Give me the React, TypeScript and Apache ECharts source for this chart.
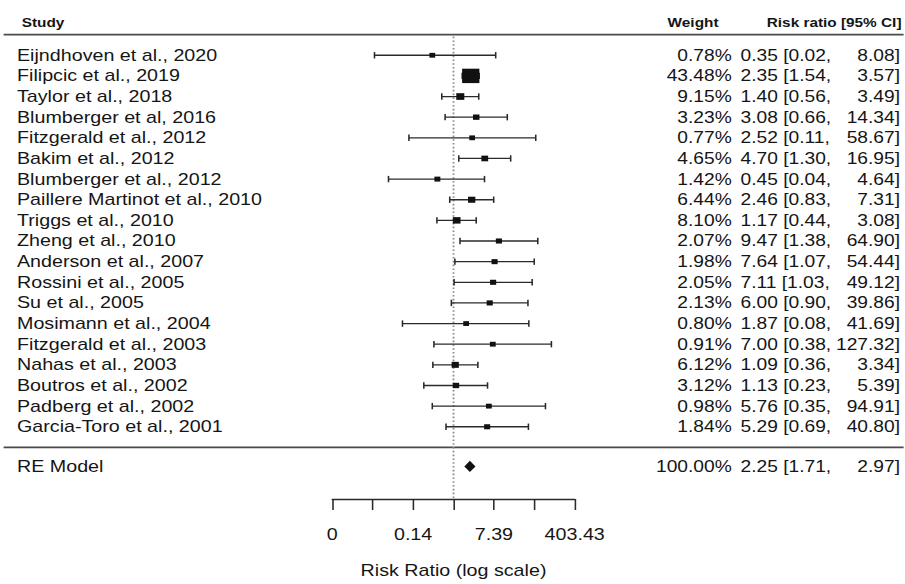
import React, { useEffect, useRef } from "react";
import * as echarts from "echarts";

// ---------------- data ----------------
const studies = [
  "Eijndhoven et al., 2020",
  "Filipcic et al., 2019",
  "Taylor et al., 2018",
  "Blumberger et al, 2016",
  "Fitzgerald et al., 2012",
  "Bakim et al., 2012",
  "Blumberger et al., 2012",
  "Paillere Martinot et al., 2010",
  "Triggs et al., 2010",
  "Zheng et al., 2010",
  "Anderson et al., 2007",
  "Rossini et al., 2005",
  "Su et al., 2005",
  "Mosimann et al., 2004",
  "Fitzgerald et al., 2003",
  "Nahas et al., 2003",
  "Boutros et al., 2002",
  "Padberg et al., 2002",
  "Garcia-Toro et al., 2001",
];
const weights = [0.78, 43.48, 9.15, 3.23, 0.77, 4.65, 1.42, 6.44, 8.1, 2.07, 1.98, 2.05, 2.13, 0.8, 0.91, 6.12, 3.12, 0.98, 1.84];
const riskRatios = [0.35, 2.35, 1.4, 3.08, 2.52, 4.7, 0.45, 2.46, 1.17, 9.47, 7.64, 7.11, 6.0, 1.87, 7.0, 1.09, 1.13, 5.76, 5.29];
const ciLower = [0.02, 1.54, 0.56, 0.66, 0.11, 1.3, 0.04, 0.83, 0.44, 1.38, 1.07, 1.03, 0.9, 0.08, 0.38, 0.36, 0.23, 0.35, 0.69];
const ciUpper = [8.08, 3.57, 3.49, 14.34, 58.67, 16.95, 4.64, 7.31, 3.08, 64.9, 54.44, 49.12, 39.86, 41.69, 127.32, 3.34, 5.39, 94.91, 40.8];

const summaryLabel = "RE Model";
const summaryWeight = 100;
const summaryRR = 2.25;
const summaryLower = 1.71;
const summaryUpper = 2.97;

const headerStudy = "Study";
const headerWeight = "Weight";
const headerRR = "Risk ratio [95% CI]";
const xAxisTitle = "Risk Ratio (log scale)";
const xTickLabels: Record<string, string> = { "-6": "0", "-2": "0.14", "2": "7.39", "6": "403.43" };

// ---------------- layout ----------------
const SX = 1.2; // horizontal stretch of the reference picture
const CHART_W = 754;
const CHART_H = 584;
const FONT = "'Liberation Sans', Arial, Helvetica, sans-serif";
const BODY_SIZE = 16.4;
const NUM_SIZE = 16.0;
const HEAD_SIZE = 12.8;
const INK = "#151515";
const LINE_INK = "#2a2a2a";

const NAME_X = 17 / SX;
const WEIGHT_RIGHT = 731.7 / SX;
const RR_LEFT = 740.5 / SX;
const UPPER_RIGHT = 900 / SX;
const HEAD_STUDY_X = 21.7 / SX;
const HEAD_WEIGHT_RIGHT = 718.5 / SX;
const HEAD_RR_RIGHT = 901.5 / SX;

const ROW_HEADER = -1.6;
const ROW_TOPLINE = -1;
const ROW_SEPARATOR = 19;
const ROW_SUMMARY = 19.92;
const Y_MIN = -1.5;
const Y_MAX = 21.5;

const SQUARE_BASE = 9.6;
const CAP = 3.2;

const wMin = Math.min(...weights);
const wMax = Math.max(...weights);

const fmt = (v: number) => v.toFixed(2);

const bodyText = (x: number, y: number, text: string, align: string, size: number = BODY_SIZE) => ({
  type: "text",
  x,
  y,
  style: {
    text,
    fill: INK,
    fontSize: size,
    fontFamily: FONT,
    align,
    verticalAlign: "middle",
  },
});

const headText = (x: number, y: number, text: string, align: string) => ({
  type: "text",
  x,
  y,
  style: {
    text,
    fill: INK,
    fontSize: HEAD_SIZE,
    fontWeight: "bold",
    fontFamily: FONT,
    align,
    verticalAlign: "middle",
  },
});

const studyData = studies.map((_, i) => [
  Math.log(riskRatios[i]),
  i,
  Math.log(ciLower[i]),
  Math.log(ciUpper[i]),
  weights[i],
]);

const summaryData = [[Math.log(summaryRR), ROW_SUMMARY, Math.log(summaryLower), Math.log(summaryUpper), summaryWeight]];

const option: any = {
  animation: false,
  backgroundColor: "#ffffff",
  grid: {
    left: 332.3 / SX,
    right: CHART_W - 574.7 / SX,
    top: 55.3 + Y_MIN * 20.67,
    height: (Y_MAX - Y_MIN) * 20.67,
  },
  xAxis: {
    type: "value",
    min: -6,
    max: 6,
    interval: 2,
    name: xAxisTitle,
    nameLocation: "middle",
    nameGap: 64,
    nameTextStyle: { fontSize: BODY_SIZE, fontFamily: FONT, color: INK },
    axisLine: { show: true, onZero: false, lineStyle: { color: LINE_INK, width: 1.3 } },
    axisTick: { show: true, length: 11, lineStyle: { color: LINE_INK, width: 1.3 } },
    axisLabel: {
      margin: 28,
      fontSize: BODY_SIZE,
      fontFamily: FONT,
      color: INK,
      formatter: (v: number) => xTickLabels[String(v)] ?? "",
    },
    splitLine: { show: false },
  },
  yAxis: {
    type: "value",
    min: Y_MIN,
    max: Y_MAX,
    inverse: true,
    show: false,
    splitLine: { show: false },
  },
  series: [
    {
      type: "custom",
      name: "frame",
      clip: false,
      silent: true,
      data: [[0, ROW_TOPLINE]],
      renderItem: (params: any, api: any) => {
        const [x0, yTop] = api.coord([0, ROW_TOPLINE]);
        const [, ySep] = api.coord([0, ROW_SEPARATOR]);
        const [, yHead] = api.coord([0, ROW_HEADER]);
        const [, yAxis] = api.coord([0, Y_MAX]);
        const w = api.getWidth();
        return {
          type: "group",
          children: [
            {
              type: "line",
              shape: { x1: 3, y1: yTop, x2: w - 1, y2: yTop },
              style: { stroke: "#4a4a4a", lineWidth: 1.8 },
            },
            {
              type: "line",
              shape: { x1: 3, y1: ySep, x2: w - 1, y2: ySep },
              style: { stroke: "#4a4a4a", lineWidth: 1.8 },
            },
            {
              type: "line",
              shape: { x1: x0, y1: yTop + 2, x2: x0, y2: yAxis },
              style: { stroke: "#8a8a8a", lineWidth: 1.5, lineDash: [1.6, 2.2] },
            },
            headText(HEAD_STUDY_X, yHead, headerStudy, "left"),
            headText(HEAD_WEIGHT_RIGHT, yHead, headerWeight, "right"),
            headText(HEAD_RR_RIGHT, yHead, headerRR, "right"),
          ],
        };
      },
      z: 1,
    },
    {
      type: "custom",
      name: "studies",
      clip: false,
      silent: true,
      data: studyData,
      renderItem: (params: any, api: any) => {
        const i = params.dataIndex;
        const est = api.value(0);
        const row = api.value(1);
        const lo = api.value(2);
        const hi = api.value(3);
        const w = api.value(4);
        const [xe, y] = api.coord([est, row]);
        const [xl] = api.coord([lo, row]);
        const [xh] = api.coord([hi, row]);
        const s = SQUARE_BASE * (0.5 + (w - wMin) / (wMax - wMin));
        const ls = { stroke: LINE_INK, lineWidth: 1.3 };
        return {
          type: "group",
          children: [
            { type: "line", shape: { x1: xl, y1: y, x2: xh, y2: y }, style: ls },
            { type: "line", shape: { x1: xl, y1: y - CAP, x2: xl, y2: y + CAP }, style: ls },
            { type: "line", shape: { x1: xh, y1: y - CAP, x2: xh, y2: y + CAP }, style: ls },
            { type: "rect", shape: { x: xe - s / 2, y: y - s / 2, width: s, height: s }, style: { fill: "#111" } },
            bodyText(NAME_X, y, studies[i], "left"),
            bodyText(WEIGHT_RIGHT, y, fmt(weights[i]) + "%", "right", NUM_SIZE),
            bodyText(RR_LEFT, y, `${fmt(riskRatios[i])} [${fmt(ciLower[i])},`, "left", NUM_SIZE),
            bodyText(UPPER_RIGHT, y, `${fmt(ciUpper[i])}]`, "right", NUM_SIZE),
          ],
        };
      },
      z: 3,
    },
    {
      type: "custom",
      name: "summary",
      clip: false,
      silent: true,
      data: summaryData,
      renderItem: (params: any, api: any) => {
        const est = api.value(0);
        const row = api.value(1);
        const lo = api.value(2);
        const hi = api.value(3);
        const [xe, y] = api.coord([est, row]);
        const [xl] = api.coord([lo, row]);
        const [xh] = api.coord([hi, row]);
        const h = 5.6;
        return {
          type: "group",
          children: [
            {
              type: "polygon",
              shape: { points: [[xl, y], [xe, y - h], [xh, y], [xe, y + h]] },
              style: { fill: "#111" },
            },
            bodyText(NAME_X, y, summaryLabel, "left"),
            bodyText(WEIGHT_RIGHT, y, fmt(summaryWeight) + "%", "right", NUM_SIZE),
            bodyText(RR_LEFT, y, `${fmt(summaryRR)} [${fmt(summaryLower)},`, "left", NUM_SIZE),
            bodyText(UPPER_RIGHT, y, `${fmt(summaryUpper)}]`, "right", NUM_SIZE),
          ],
        };
      },
      z: 3,
    },
  ],
};

export default function App() {
  const ref = useRef<HTMLDivElement>(null);
  useEffect(() => {
    if (!ref.current) return;
    const chart = echarts.init(ref.current, null, { renderer: "svg" });
    chart.setOption(option);
    return () => {
      chart.dispose();
    };
  }, []);
  return (
    <div
      ref={ref}
      style={{
        position: "absolute",
        left: 0,
        top: 0,
        width: CHART_W,
        height: CHART_H,
        transform: `scaleX(${SX})`,
        transformOrigin: "0 0",
        background: "#fff",
      }}
    />
  );
}
